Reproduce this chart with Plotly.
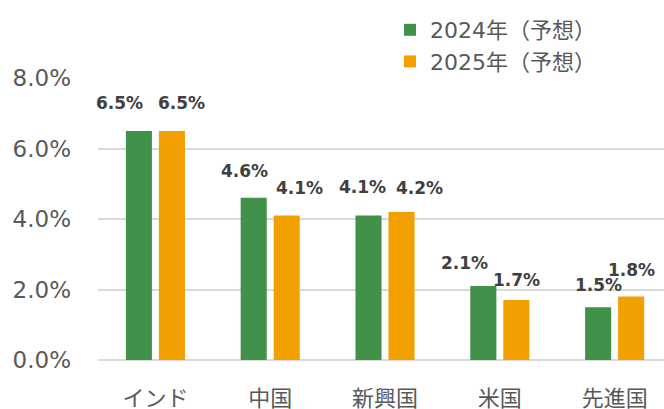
import plotly.graph_objects as go

categories = ["インド", "中国", "新興国", "米国", "先進国"]
series_names = ["2024年（予想）", "2025年（予想）"]
values_2024 = [6.5, 4.6, 4.1, 2.1, 1.5]
values_2025 = [6.5, 4.1, 4.2, 1.7, 1.8]
y_tickvals = [0, 2, 4, 6, 8]
y_ticktext = ["0.0%", "2.0%", "4.0%", "6.0%", "8.0%"]

# label offsets in pixels (relative to bar centre / bar top)
label_dx_2024 = [-19, -9, -6, -19, 0]
label_dy_2024 = [28, 27, 28, 23, 22]
label_dx_2025 = [10, 13, 18, 0, 0]
label_dy_2025 = [28, 27, 24, 20, 27]

GREEN = "#41914B"
ORANGE = "#F2A000"
FONT = "DejaVu Sans, Noto Sans CJK JP, sans-serif"

fig = go.Figure()
fig.add_trace(go.Bar(x=categories, y=values_2024, name=series_names[0], legendgroup="a",
                     marker=dict(color=GREEN, line=dict(width=0))))
fig.add_trace(go.Bar(x=categories, y=values_2025, name=series_names[1], legendgroup="b",
                     marker=dict(color=ORANGE, line=dict(width=0))))

bar_off = 16.5
for i, c in enumerate(categories):
    fig.add_annotation(x=c, y=values_2024[i], xref="x", yref="y",
                       text=f"{values_2024[i]:.1f}%", showarrow=False,
                       xshift=-bar_off + label_dx_2024[i], yshift=label_dy_2024[i],
                       font=dict(family=FONT, size=17, color="#404040", weight="bold"),
                       xanchor="center", yanchor="middle")
    fig.add_annotation(x=c, y=values_2025[i], xref="x", yref="y",
                       text=f"{values_2025[i]:.1f}%", showarrow=False,
                       xshift=bar_off + label_dx_2025[i], yshift=label_dy_2025[i],
                       font=dict(family=FONT, size=17, color="#404040", weight="bold"),
                       xanchor="center", yanchor="middle")

fig.update_layout(
    width=664, height=409,
    margin=dict(l=98, r=0, t=78, b=49, autoexpand=False),
    paper_bgcolor="white", plot_bgcolor="white",
    barmode="group", bargap=0.425, bargroupgap=0.21,
    font=dict(family=FONT, color="#595959"),
    showlegend=True,
    legend=dict(xref="container", yref="container",
                x=390 / 664, y=1 - 9 / 409, xanchor="left", yanchor="top",
                font=dict(size=22, color="#595959", family=FONT),
                bgcolor="rgba(0,0,0,0)", itemwidth=30, tracegroupgap=0),
    xaxis=dict(type="category", range=[-0.5, 4.43], showgrid=False,
               showline=False, zeroline=False, ticks="", automargin=False,
               tickfont=dict(size=22, color="#595959", family=FONT),
               ticklabelstandoff=23),
    yaxis=dict(range=[0, 8], tickvals=y_tickvals, ticktext=y_ticktext,
               showgrid=True, gridcolor="#D9D9D9", gridwidth=1.5,
               zeroline=True, zerolinecolor="#D9D9D9", zerolinewidth=1.5,
               showline=False, ticks="", automargin=False,
               tickfont=dict(size=23, color="#595959", family=FONT),
               ticklabelstandoff=26),
)

fig.write_html("out.html", config={"displayModeBar": False},
               post_script="document.body.style.margin='0';document.body.style.overflow='hidden';")
